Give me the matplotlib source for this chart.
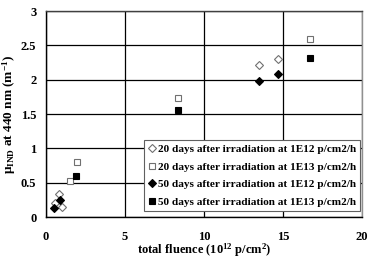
import matplotlib
matplotlib.use('Agg')
import matplotlib.pyplot as plt

plt.rcParams['font.family'] = 'Liberation Serif'
plt.rcParams['font.weight'] = 'bold'
plt.rcParams['mathtext.fontset'] = 'custom'
plt.rcParams['mathtext.rm'] = 'Liberation Serif:bold'
plt.rcParams['mathtext.it'] = 'Liberation Serif:bold'

# 20 days after irradiation, 1E12 p/cm2/h (open diamonds)
d20_e12_x = [0.55, 0.85, 1.0, 13.5, 14.7]
d20_e12_y = [0.20, 0.34, 0.14, 2.21, 2.30]
# 20 days after irradiation, 1E13 p/cm2/h (open squares)
d20_e13_x = [1.55, 1.95, 8.35, 16.7]
d20_e13_y = [0.52, 0.80, 1.74, 2.59]
# 50 days after irradiation, 1E12 p/cm2/h (filled diamonds)
d50_e12_x = [0.5, 0.88, 13.5, 14.7]
d50_e12_y = [0.13, 0.25, 1.98, 2.08]
# 50 days after irradiation, 1E13 p/cm2/h (filled squares)
d50_e13_x = [1.9, 8.35, 16.7]
d50_e13_y = [0.59, 1.56, 2.31]

labels = ['20 days after irradiation at 1E12 p/cm2/h',
          '20 days after irradiation at 1E13 p/cm2/h',
          '50 days after irradiation at 1E12 p/cm2/h',
          '50 days after irradiation at 1E13 p/cm2/h']

fig = plt.figure(figsize=(3.74, 2.58), dpi=100)
ax = fig.add_axes([46 / 374, 1 - 217 / 258, 316 / 374, 206 / 258])

ax.plot(d20_e12_x, d20_e12_y, 'D', ms=4.2, mfc='white', mec='#707070',
        mew=0.8, ls='none', label=labels[0], zorder=3)
ax.plot(d20_e13_x, d20_e13_y, 's', ms=4.8, mfc='white', mec='#707070',
        mew=0.8, ls='none', label=labels[1], zorder=3)
ax.plot(d50_e12_x, d50_e12_y, 'D', ms=4.2, mfc='black', mec='black',
        mew=0.8, ls='none', label=labels[2], zorder=4)
ax.plot(d50_e13_x, d50_e13_y, 's', ms=4.8, mfc='black', mec='black',
        mew=0.8, ls='none', label=labels[3], zorder=4)

ax.set_xlim(0, 20)
ax.set_ylim(0, 3)
ax.set_xticks([0, 5, 10, 15, 20])
ax.set_yticks([0, 0.5, 1, 1.5, 2, 2.5, 3])
ax.set_yticklabels(['0', '0.5', '1', '1.5', '2', '2.5', '3'])
ax.tick_params(length=0, labelsize=9, pad=7)
ax.tick_params(axis='x', pad=10)
ax.grid(True, color='black', lw=0.9)
ax.set_axisbelow(True)
for side in ('left', 'bottom'):
    ax.spines[side].set_color('black')
ax.spines['top'].set_color('#404040')
ax.spines['right'].set_color('#909090')
for sp in ax.spines.values():
    sp.set_linewidth(1.0)

ax.set_xlabel('total fluence (10$^{12}$ p/cm$^{2}$)', fontsize=9,
              fontweight='bold', labelpad=-1)
ax.set_ylabel('μ$_{\\mathrm{IND}}$ at 440 nm (m$^{-1}$)', fontsize=9.5,
              fontweight='bold', labelpad=2)

leg = ax.legend(loc='lower right', bbox_to_anchor=(0.995, 0.03),
                fontsize=8.1, frameon=True, fancybox=False,
                handlelength=0.6, handletextpad=0.3, borderpad=0.35,
                labelspacing=0.68, borderaxespad=0)
leg.get_frame().set_edgecolor('#606060')
leg.get_frame().set_linewidth(0.8)
leg.get_frame().set_alpha(1)

fig.savefig('out.png', dpi=100, facecolor='white')
